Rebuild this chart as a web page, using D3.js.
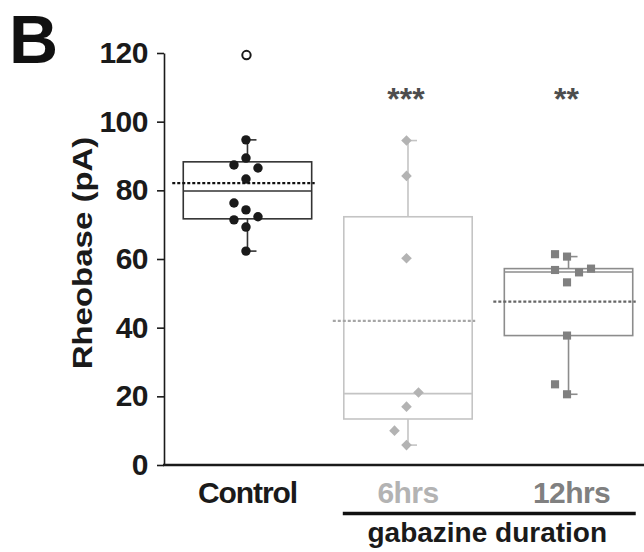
<!doctype html>
<html lang="en">
<head>
  <meta charset="utf-8">
  <title>Rheobase box plot</title>
  <style>
    * { margin: 0; padding: 0; box-sizing: border-box; }
    body { background: #fff; }
    svg { display: block; font-family: "Liberation Sans", Arial, sans-serif; }
  </style>
</head>
<body>
  <div id="container"></div>
  <script src="https://cdn.jsdelivr.net/npm/d3@7"></script>
  <script>
    // groups and their summary stats as drawn
    const categories = ['Control', '6hrs', '12hrs'];
    const q3 = [88.3, 72.3, 57.2];
    const medians = [79.8, 20.8, 56.2];
    const q1 = [71.7, 13.4, 37.7];
    const whiskerHi = [94.7, 94.5, 60.7];
    const whiskerLo = [62.3, 5.8, 20.6];
    const means = [82.1, 42.0, 47.6];
    const stars = ['', '***', '**'];

    // individual cells (value + swarm column)
    const controlValues = [94.7, 89.4, 87.4, 86.5, 83.3, 76.3, 74.3, 72.3, 71.4, 69.3, 62.3];
    const controlCols = [0, 0, -1, 1, 0, -1, 0, 1, -1, 0, 0];
    const controlOutliers = [119.4];
    const hrs6Values = [94.5, 84.2, 60.2, 21.1, 17.0, 10.0, 5.8];
    const hrs6Cols = [0, 0, 0, 1, 0, -1, 0];
    const hrs12Values = [61.4, 60.7, 56.8, 56.1, 57.2, 53.2, 37.7, 23.5, 20.6];
    const hrs12Cols = [-1, 0, -1, 1, 2, 0, 0, -1, 0];

    const yTicks = [0, 20, 40, 60, 80, 100, 120];

    const W = 644, H = 552;
    const colors = { 'Control': '#1a1a1a', '6hrs': '#b3b3b3', '12hrs': '#808080' };
    const boxColors = { 'Control': '#333', '6hrs': '#c4c4c4', '12hrs': '#8c8c8c' };
    const meanColors = { 'Control': '#111', '6hrs': '#a6a6a6', '12hrs': '#666' };

    const svg = d3.select('#container').append('svg')
      .attr('width', W)
      .attr('height', H);

    const y = d3.scaleLinear().domain([0, 120]).range([465, 53]);
    const x = d3.scaleBand()
      .domain(categories)
      .range([164, 652])
      .paddingInner(0.2)
      .paddingOuter(0.12);
    const bw = x.bandwidth();
    const cx = c => x(c) + bw / 2;
    const jit = 12;

    // panel letter
    svg.append('text')
      .attr('x', 9).attr('y', 63)
      .attr('font-size', 68).attr('font-weight', 'bold')
      .attr('fill', '#111')
      .text('B');

    // y axis
    const yAxis = svg.append('g')
      .attr('transform', 'translate(164,0)')
      .call(d3.axisLeft(y).tickValues(yTicks).tickSize(7).tickPadding(9).tickSizeOuter(0));
    yAxis.select('.domain').attr('stroke', '#1a1a1a').attr('stroke-width', 1.6);
    yAxis.selectAll('.tick line').attr('stroke', '#1a1a1a').attr('stroke-width', 1.6);
    yAxis.selectAll('.tick text')
      .attr('font-size', 30).attr('font-weight', 'bold')
      .attr('fill', '#1a1a1a')
      .attr('font-family', '"Liberation Sans", Arial, sans-serif')
      .attr('letter-spacing', '-0.5px');

    svg.append('text')
      .attr('transform', 'translate(92,253) rotate(-90) scale(1,0.82)')
      .attr('text-anchor', 'middle')
      .attr('font-size', 33).attr('font-weight', 'bold')
      .attr('fill', '#1a1a1a')
      .text('Rheobase (pA)');

    // x axis line
    svg.append('line')
      .attr('x1', 163).attr('x2', W)
      .attr('y1', y(0)).attr('y2', y(0))
      .attr('stroke', '#1a1a1a').attr('stroke-width', 2.6);

    // boxes
    const groups = svg.selectAll('g.box').data(categories).enter().append('g').attr('class', 'box');

    groups.append('line')
      .attr('x1', cx).attr('x2', cx)
      .attr('y1', (d, i) => y(whiskerHi[i])).attr('y2', (d, i) => y(whiskerLo[i]))
      .attr('stroke', d => boxColors[d]).attr('stroke-width', 1.6);
    groups.append('line')
      .attr('x1', cx).attr('x2', d => cx(d) + 9)
      .attr('y1', (d, i) => y(whiskerHi[i])).attr('y2', (d, i) => y(whiskerHi[i]))
      .attr('stroke', d => boxColors[d]).attr('stroke-width', 1.6);
    groups.append('line')
      .attr('x1', cx).attr('x2', d => cx(d) + 9)
      .attr('y1', (d, i) => y(whiskerLo[i])).attr('y2', (d, i) => y(whiskerLo[i]))
      .attr('stroke', d => boxColors[d]).attr('stroke-width', 1.6);
    groups.append('rect')
      .attr('x', d => x(d)).attr('width', bw)
      .attr('y', (d, i) => y(q3[i])).attr('height', (d, i) => y(q1[i]) - y(q3[i]))
      .attr('fill', '#fff')
      .attr('stroke', d => boxColors[d]).attr('stroke-width', 1.6);
    groups.append('line')
      .attr('x1', d => x(d)).attr('x2', d => x(d) + bw)
      .attr('y1', (d, i) => y(medians[i])).attr('y2', (d, i) => y(medians[i]))
      .attr('stroke', d => boxColors[d]).attr('stroke-width', 1.6);

    // points
    const pts = [
      ...controlValues.map((v, i) => ({ g: 'Control', v, c: controlCols[i] })),
      ...hrs6Values.map((v, i) => ({ g: '6hrs', v, c: hrs6Cols[i] })),
      ...hrs12Values.map((v, i) => ({ g: '12hrs', v, c: hrs12Cols[i] }))
    ];
    const shapes = {
      'Control': d3.symbol(d3.symbolCircle, 70),
      '6hrs': d3.symbol(d3.symbolSquare, 56),
      '12hrs': d3.symbol(d3.symbolSquare, 66)
    };
    svg.append('g').selectAll('path').data(pts).enter().append('path')
      .attr('d', d => shapes[d.g]())
      .attr('transform', d => `translate(${cx(d.g) - 1.5 + d.c * jit},${y(d.v)})` + (d.g === '6hrs' ? ' rotate(45)' : ''))
      .attr('fill', d => colors[d.g]);

    svg.append('g').selectAll('circle').data(controlOutliers).enter().append('circle')
      .attr('cx', cx('Control') - 1).attr('cy', d => y(d))
      .attr('r', 4.2)
      .attr('fill', '#fff').attr('stroke', '#1a1a1a').attr('stroke-width', 2);

    // means (dotted)
    svg.append('g').selectAll('line').data(categories).enter().append('line')
      .attr('x1', d => x(d) - 11).attr('x2', d => x(d) + bw + 3)
      .attr('y1', (d, i) => y(means[i])).attr('y2', (d, i) => y(means[i]))
      .attr('stroke', d => meanColors[d]).attr('stroke-width', 2.2)
      .attr('stroke-dasharray', '3,2');

    // significance
    svg.append('g').selectAll('text').data(categories).enter().append('text')
      .attr('x', d => cx(d) - 2).attr('y', 110)
      .attr('text-anchor', 'middle')
      .attr('font-size', 32).attr('font-weight', 'bold')
      .attr('fill', '#4d4d4d')
      .text((d, i) => stars[i]);

    // category labels
    svg.append('g').selectAll('text').data(categories).enter().append('text')
      .attr('x', d => cx(d) + (d === '12hrs' ? 3 : 0)).attr('y', 503)
      .attr('text-anchor', 'middle')
      .attr('font-size', 30).attr('font-weight', 'bold')
      .attr('letter-spacing', d => d === 'Control' ? '-1.1px' : '-0.6px')
      .attr('fill', d => d === 'Control' ? '#1a1a1a' : colors[d])
      .text(d => d);

    // treatment bracket
    svg.append('line')
      .attr('x1', x('6hrs') - 1).attr('x2', x('12hrs') + bw + 3)
      .attr('y1', 513.5).attr('y2', 513.5)
      .attr('stroke', '#111').attr('stroke-width', 3.6);
    svg.append('text')
      .attr('x', (x('6hrs') + x('12hrs') + bw) / 2 - 1).attr('y', 542)
      .attr('text-anchor', 'middle')
      .attr('font-size', 28).attr('font-weight', 'bold')
      .attr('fill', '#1a1a1a')
      .text('gabazine duration');
  </script>
</body>
</html>
